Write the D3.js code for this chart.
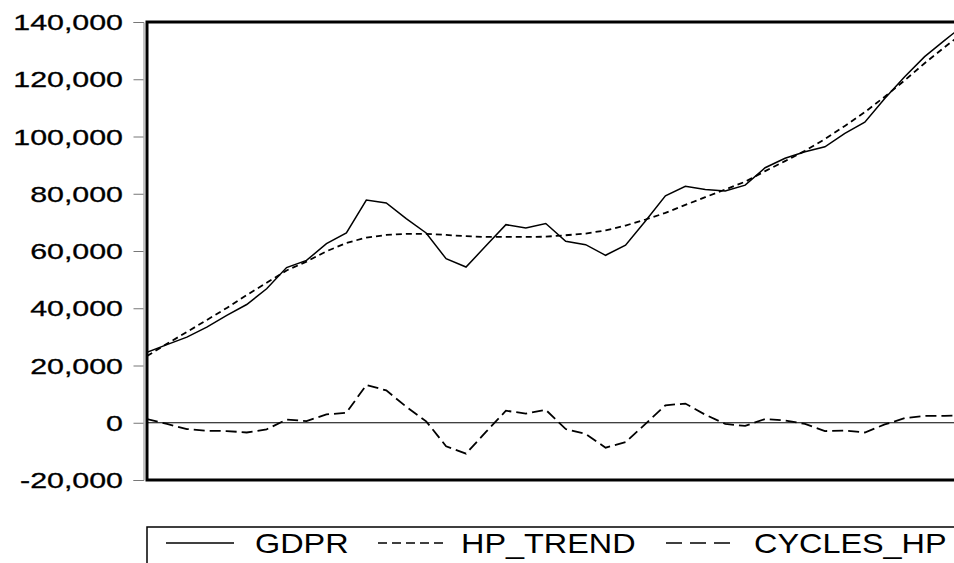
<!DOCTYPE html>
<html>
<head>
<meta charset="utf-8">
<script src="https://cdn.jsdelivr.net/npm/d3@7"></script>
<style>
  html, body { margin: 0; padding: 0; background: #fff; }
  svg { display: block; }
</style>
</head>
<body>
<svg id="chart" width="954" height="563"></svg>
<script>
// Observation index of each annual value
const periods = d3.range(42);

// Real GDP
const gdpr = [24600, 27300, 29900, 33400, 37500, 41300, 46800, 54200, 56700, 62600,
              66300, 77800, 76800, 71300, 66300, 57300, 54400, 61800, 69200, 68000,
              69600, 63400, 62200, 58500, 62000, 70500, 79300, 82600, 81500, 81000,
              83000, 89100, 92400, 94700, 96400, 101100, 105000, 113300, 120900, 127900,
              133600, 139100];

// Hodrick-Prescott trend
const hpTrend = [23300, 27600, 31700, 35900, 40100, 44600, 48900, 53200, 56300, 59900,
                 62800, 64700, 65600, 66000, 66000, 65600, 65200, 64900, 64900, 64900,
                 65000, 65500, 66100, 67200, 68900, 71000, 73300, 76100, 78800, 81500,
                 84200, 87900, 91400, 95000, 99100, 103700, 108500, 113900, 119600, 125600,
                 131200, 136600];

// Cyclical component
const cyclesHp = [1300, -400, -2200, -2800, -2900, -3400, -2300, 1100, 600, 2900,
                  3500, 13200, 11300, 5600, 500, -8200, -10800, -3200, 4200, 3200,
                  4500, -2200, -3900, -8700, -6800, -400, 6100, 6700, 2800, -400,
                  -1100, 1300, 800, -400, -2900, -2700, -3400, -600, 1600, 2400,
                  2400, 2600];

const yTicks = [-20000, 0, 20000, 40000, 60000, 80000, 100000, 120000, 140000];

const seriesNames = ["GDPR", "HP_TREND", "CYCLES_HP"];

const svg = d3.select("#chart");
const W = 954, H = 563;
const FONT = "Liberation Sans, Arial, sans-serif";

const plot = { left: 147, top: 22, bottom: 480, right: 964.5 };

const x = d3.scaleLinear()
  .domain([0, periods.length - 1])
  .range([plot.left, plot.right]);

const y = d3.scaleLinear()
  .domain([-20000, 140000])
  .range([plot.bottom, plot.top]);

// Thousands separator with a plain hyphen for negatives
const fmt = d3.formatLocale({
  decimal: ".", thousands: ",", grouping: [3], currency: ["", ""], minus: "-"
}).format(",");

// Axis line and ticks (grey) on the left
const axis = d3.axisLeft(y)
  .tickValues(yTicks)
  .tickSize(10)
  .tickFormat("");
const axisG = svg.append("g")
  .attr("transform", `translate(${plot.left - 3.5},0)`)
  .call(axis);
axisG.select(".domain").attr("stroke", "#888").attr("stroke-width", 1);
axisG.selectAll(".tick line").attr("stroke", "#777").attr("stroke-width", 1);

// Tick labels, drawn horizontally widened
svg.append("g").selectAll("text")
  .data(yTicks)
  .join("text")
  .attr("transform", d => `translate(123,${y(d) + 8}) scale(1.38,1)`)
  .attr("text-anchor", "end")
  .attr("font-family", FONT)
  .attr("font-size", 22)
  .attr("fill", "#000")
  .attr("stroke", "#000")
  .attr("stroke-width", 0.3)
  .text(d => fmt(d));

// Clip for the data lines
svg.append("clipPath").attr("id", "plotClip")
  .append("rect")
  .attr("x", plot.left).attr("y", plot.top)
  .attr("width", plot.right - plot.left).attr("height", plot.bottom - plot.top);

const g = svg.append("g").attr("clip-path", "url(#plotClip)");

// Zero reference line
g.append("line")
  .attr("x1", plot.left).attr("x2", plot.right)
  .attr("y1", y(0)).attr("y2", y(0))
  .attr("stroke", "#000").attr("stroke-width", 1);

const line = d3.line()
  .x((d, i) => x(periods[i]))
  .y(d => y(d));

g.append("path").datum(cyclesHp)
  .attr("d", line)
  .attr("fill", "none")
  .attr("stroke", "#000")
  .attr("stroke-width", 1.8)
  .attr("stroke-dasharray", "11,5");

g.append("path").datum(hpTrend)
  .attr("d", line)
  .attr("fill", "none")
  .attr("stroke", "#000")
  .attr("stroke-width", 1.8)
  .attr("stroke-dasharray", "6,4");

g.append("path").datum(gdpr)
  .attr("d", line)
  .attr("fill", "none")
  .attr("stroke", "#000")
  .attr("stroke-width", 1.5);

// Plot frame: heavy left, top and bottom edges
svg.append("path")
  .attr("d", `M${W + 5},${plot.top} H${plot.left} V${plot.bottom} H${W + 5}`)
  .attr("fill", "none")
  .attr("stroke", "#000")
  .attr("stroke-width", 3);

// Legend box
const lg = svg.append("g");
lg.append("rect")
  .attr("x", 147).attr("y", 527)
  .attr("width", W).attr("height", 60)
  .attr("fill", "none")
  .attr("stroke", "#000")
  .attr("stroke-width", 1.5);

const legendItems = [
  { name: seriesNames[0], x1: 166, x2: 234, tx: 255, dash: null },
  { name: seriesNames[1], x1: 378, x2: 446, tx: 461, dash: "9,5" },
  { name: seriesNames[2], x1: 666, x2: 734, tx: 754, dash: "16,8" }
];

legendItems.forEach(it => {
  lg.append("line")
    .attr("x1", it.x1).attr("x2", it.x2)
    .attr("y1", 543).attr("y2", 543)
    .attr("stroke", "#000")
    .attr("stroke-width", 1.3)
    .attr("stroke-dasharray", it.dash);
  lg.append("text")
    .attr("transform", `translate(${it.tx},553) scale(1.2,1)`)
    .attr("font-family", FONT)
    .attr("font-size", 27)
    .attr("fill", "#000")
    .text(it.name);
});
</script>
</body>
</html>
